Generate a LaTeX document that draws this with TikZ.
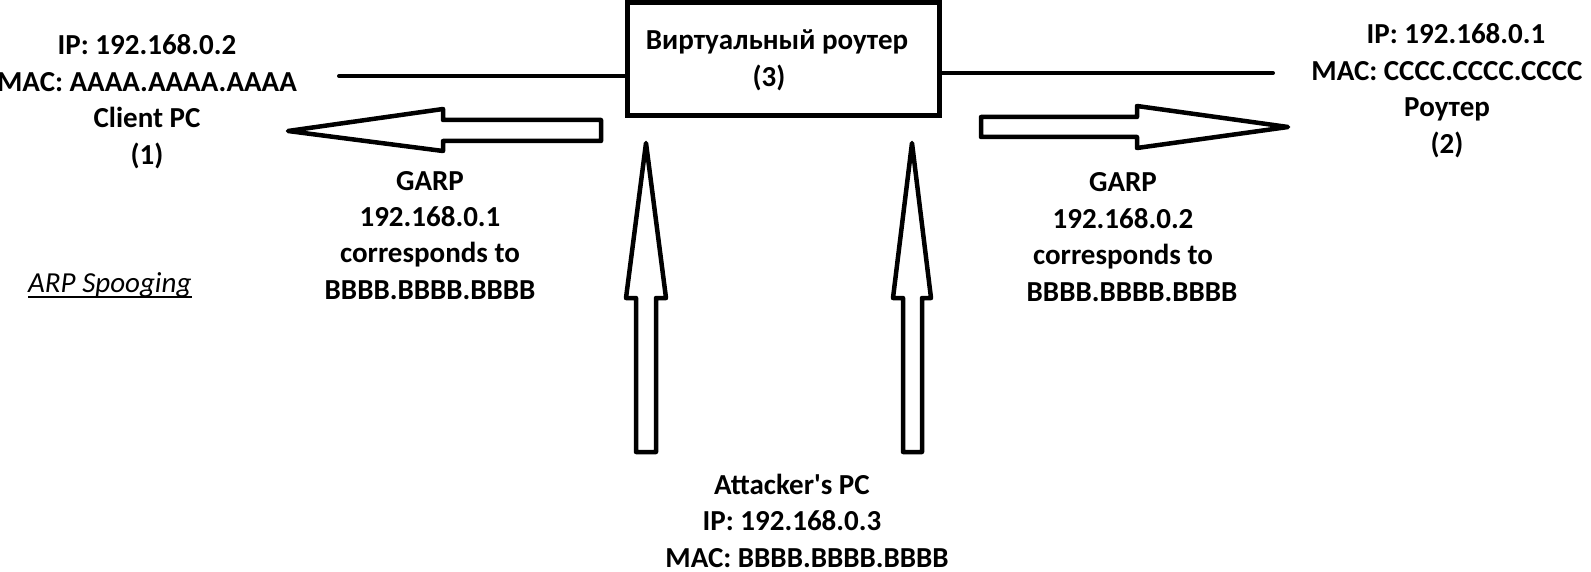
\documentclass[tikz,border=0pt]{standalone}
\usepackage{fontspec}
\setmainfont{Carlito}
\begin{document}
\begin{tikzpicture}[x=1pt,y=-1pt,
  lbl/.style={font=\fontsize{29}{36.5}\selectfont\bfseries, align=center, inner sep=0pt, anchor=base},
  wire/.style={line width=4pt, line cap=round},
  hollow/.style={draw, line width=4.5pt, line join=round, fill=white},
  boxstyle/.style={draw, line width=5pt, minimum width=312pt, minimum height=113pt, inner sep=0pt}]
\useasboundingbox (0,0) rectangle (1591,572);
\fill[white] (0,0) rectangle (1591,572);

% nodes (anchor base = baseline of the last line)
\node[lbl] (client) at (147,164.5) {IP: 192.168.0.2\\MAC: AAAA.AAAA.AAAA\\Client PC\\(1)};
\node[lbl] (router) at (1447,153.5) {\hspace*{18pt}IP: 192.168.0.1\\MAC: CCCC.CCCC.CCCC\\Роутер\\(2)};
\node[boxstyle] (vr) at (783,59) {};
\node[lbl] (vrtext) at (777,86.5) {Виртуальный роутер\\(3)\hspace*{16pt}};
\node[lbl] (garpl) at (430,299.5) {GARP\\192.168.0.1\\corresponds to\\BBBB.BBBB.BBBB};
\node[lbl] (garpr) at (1123,301.5) {GARP\\192.168.0.2\\corresponds to\\\hspace*{18pt}BBBB.BBBB.BBBB};
\node[lbl] (attacker) at (792,567) {Attacker\textquotesingle s PC\\IP: 192.168.0.3\\\hspace*{30pt}MAC: BBBB.BBBB.BBBB};
\node[font=\fontsize{29}{36.5}\selectfont\itshape, inner sep=0pt, anchor=base west] (arp) at (28,293) {ARP Spooging};
\draw[line width=1.6pt] ([yshift=-4pt]arp.base west) -- ([yshift=-4pt]arp.base east);

% wires
\coordinate (cl) at (339,76);
\coordinate (rl) at (1273,73);
\draw[wire] (cl) -- (cl -| vr.west);
\draw[wire] (vr.east |- rl) -- (rl);

% hollow block arrows
\draw[hollow] (288,131) -- (443,109) -- (443,120) -- (601,120) -- (601,141) -- (443,141) -- (443,151) -- cycle;
\draw[hollow] (1288,127) -- (1137,106) -- (1137,117) -- (981,117) -- (981,137) -- (1137,137) -- (1137,148) -- cycle;
\draw[hollow] (646,143) -- (666,298) -- (656,298) -- (656,452) -- (636,452) -- (636,298) -- (626,298) -- cycle;
\draw[hollow] (912,143) -- (931,298) -- (922,298) -- (922,452) -- (903,452) -- (903,298) -- (893,298) -- cycle;
\end{tikzpicture}
\end{document}
